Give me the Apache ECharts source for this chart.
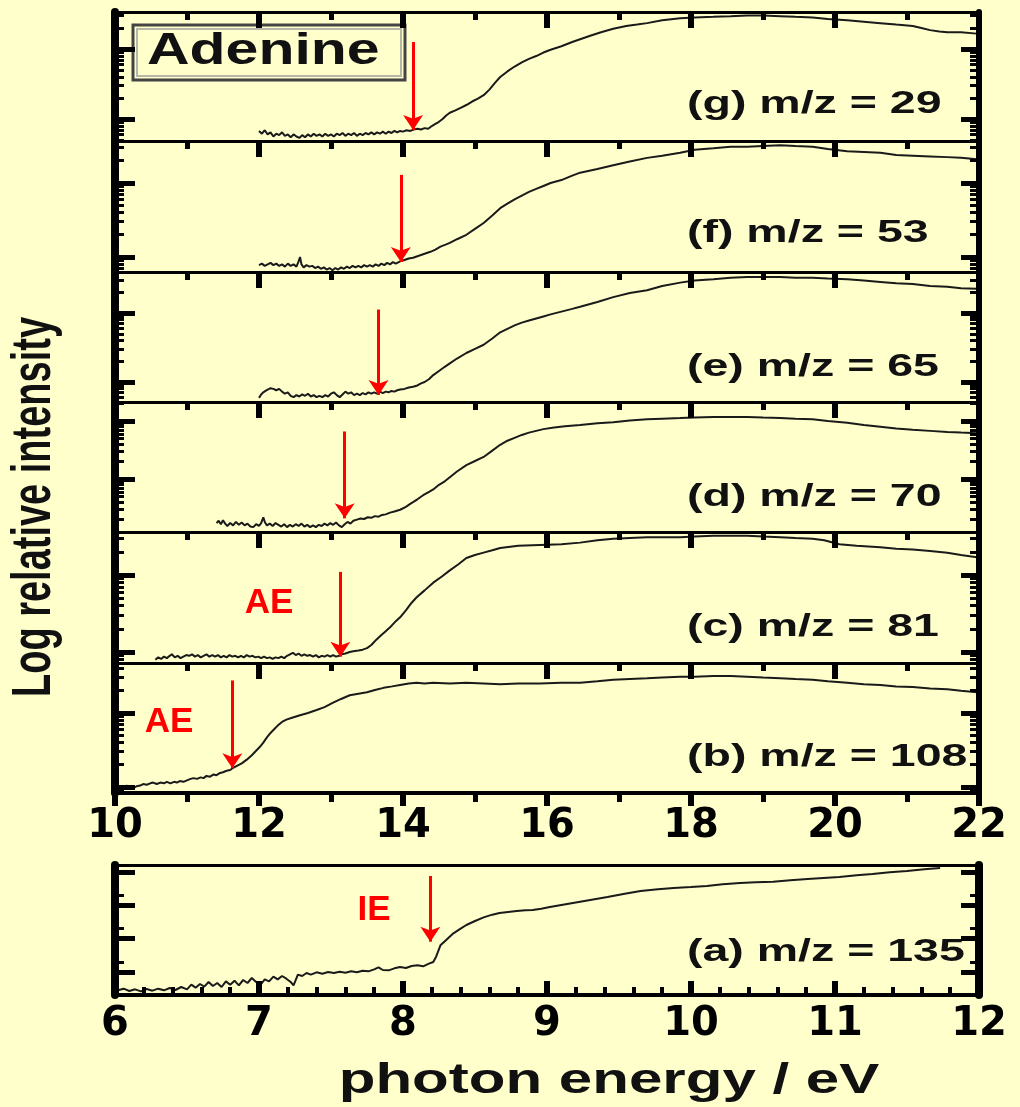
<!DOCTYPE html>
<html><head><meta charset="utf-8">
<script src="https://cdn.jsdelivr.net/npm/echarts@6/dist/echarts.min.js"></script>
<style>html,body{margin:0;padding:0;background:#FFFFCC}#c{width:1020px;height:1107px}</style>
</head><body><div id="c"></div>
<script>
// ---- DATA: [photon energy (eV), log10 relative intensity] ----
const panelG = [[12.00,-0.17],[12.04,-0.21],[12.08,-0.16],[12.12,-0.22],[12.16,-0.19],[12.20,-0.25],[12.24,-0.21],[12.28,-0.23],[12.32,-0.19],[12.36,-0.24],[12.40,-0.22],[12.44,-0.26],[12.48,-0.22],[12.52,-0.25],[12.56,-0.27],[12.60,-0.23],[12.64,-0.26],[12.68,-0.22],[12.72,-0.25],[12.76,-0.21],[12.80,-0.24],[12.84,-0.22],[12.88,-0.25],[12.92,-0.21],[12.96,-0.24],[13.00,-0.22],[13.04,-0.25],[13.08,-0.21],[13.12,-0.23],[13.16,-0.20],[13.20,-0.24],[13.24,-0.21],[13.28,-0.23],[13.32,-0.20],[13.36,-0.24],[13.40,-0.21],[13.44,-0.23],[13.48,-0.20],[13.52,-0.22],[13.56,-0.19],[13.60,-0.22],[13.64,-0.19],[13.68,-0.21],[13.72,-0.18],[13.76,-0.21],[13.80,-0.18],[13.84,-0.20],[13.88,-0.17],[13.92,-0.19],[13.96,-0.17],[14.00,-0.18],[14.05,-0.16],[14.10,-0.17],[14.15,-0.15],[14.20,-0.14],[14.25,-0.15],[14.30,-0.13],[14.35,-0.14],[14.40,-0.10],[14.45,-0.07],[14.50,-0.04],[14.55,0.00],[14.60,0.05],[14.65,0.09],[14.72,0.12],[14.80,0.16],[14.88,0.20],[14.96,0.25],[15.04,0.29],[15.12,0.34],[15.20,0.42],[15.28,0.52],[15.35,0.60],[15.45,0.68],[15.55,0.75],[15.65,0.81],[15.75,0.86],[15.85,0.90],[15.95,0.95],[16.05,0.99],[16.2,1.04],[16.35,1.10],[16.46,1.14],[16.6,1.19],[16.75,1.24],[16.92,1.29],[17.1,1.33],[17.25,1.35],[17.39,1.37],[17.6,1.41],[17.85,1.44],[18.05,1.45],[18.31,1.46],[18.55,1.47],[18.78,1.48],[19.0,1.48],[19.24,1.47],[19.45,1.46],[19.69,1.45],[19.9,1.43],[20.17,1.41],[20.4,1.39],[20.63,1.37],[20.85,1.35],[21.08,1.33],[21.2,1.30],[21.32,1.27],[21.45,1.25],[21.56,1.24],[21.75,1.24],[21.97,1.22]];

const panelF = [[12.00,-0.11],[12.04,-0.09],[12.08,-0.12],[12.12,-0.10],[12.16,-0.08],[12.20,-0.11],[12.24,-0.09],[12.28,-0.12],[12.32,-0.10],[12.36,-0.13],[12.40,-0.09],[12.44,-0.12],[12.48,-0.10],[12.52,-0.13],[12.55,-0.06],[12.57,0.00],[12.59,-0.10],[12.62,-0.14],[12.66,-0.11],[12.70,-0.13],[12.74,-0.12],[12.78,-0.15],[12.82,-0.13],[12.86,-0.16],[12.90,-0.14],[12.94,-0.17],[12.98,-0.15],[13.02,-0.18],[13.06,-0.15],[13.10,-0.17],[13.14,-0.14],[13.18,-0.16],[13.22,-0.13],[13.26,-0.15],[13.30,-0.12],[13.34,-0.14],[13.38,-0.12],[13.42,-0.14],[13.46,-0.11],[13.50,-0.13],[13.54,-0.11],[13.58,-0.13],[13.62,-0.10],[13.66,-0.12],[13.70,-0.09],[13.74,-0.11],[13.78,-0.08],[13.82,-0.10],[13.86,-0.07],[13.90,-0.09],[13.96,-0.06],[14.02,-0.04],[14.08,-0.02],[14.14,-0.01],[14.20,0.01],[14.26,0.03],[14.32,0.05],[14.38,0.07],[14.45,0.10],[14.52,0.14],[14.60,0.17],[14.65,0.19],[14.75,0.24],[14.88,0.30],[15.00,0.38],[15.12,0.46],[15.24,0.56],[15.35,0.66],[15.45,0.72],[15.55,0.78],[15.65,0.83],[15.75,0.88],[15.85,0.92],[15.95,0.96],[16.05,1.00],[16.2,1.04],[16.35,1.10],[16.46,1.14],[16.7,1.19],[16.92,1.24],[17.15,1.29],[17.39,1.34],[17.6,1.37],[17.85,1.41],[18.05,1.45],[18.31,1.47],[18.55,1.49],[18.78,1.49],[19.0,1.50],[19.24,1.51],[19.45,1.50],[19.69,1.49],[19.9,1.46],[20.17,1.43],[20.4,1.42],[20.63,1.41],[20.85,1.38],[21.08,1.37],[21.32,1.36],[21.56,1.35],[21.75,1.34],[21.97,1.32]];

const panelE = [[12.00,-0.23],[12.03,-0.18],[12.06,-0.15],[12.09,-0.13],[12.12,-0.11],[12.16,-0.09],[12.20,-0.10],[12.24,-0.12],[12.28,-0.10],[12.32,-0.14],[12.36,-0.17],[12.40,-0.15],[12.44,-0.20],[12.48,-0.22],[12.52,-0.19],[12.56,-0.21],[12.60,-0.18],[12.64,-0.20],[12.68,-0.17],[12.72,-0.21],[12.76,-0.19],[12.80,-0.22],[12.84,-0.20],[12.88,-0.22],[12.92,-0.19],[12.96,-0.21],[13.00,-0.17],[13.04,-0.15],[13.08,-0.19],[13.12,-0.22],[13.16,-0.18],[13.20,-0.14],[13.24,-0.17],[13.28,-0.15],[13.32,-0.19],[13.36,-0.17],[13.40,-0.19],[13.44,-0.16],[13.48,-0.18],[13.52,-0.15],[13.56,-0.17],[13.60,-0.15],[13.64,-0.17],[13.68,-0.14],[13.72,-0.16],[13.76,-0.14],[13.80,-0.15],[13.84,-0.13],[13.88,-0.14],[13.92,-0.12],[13.96,-0.11],[14.02,-0.10],[14.08,-0.08],[14.14,-0.07],[14.20,-0.05],[14.25,-0.02],[14.30,0.00],[14.36,0.04],[14.42,0.10],[14.50,0.16],[14.58,0.22],[14.65,0.27],[14.75,0.34],[14.88,0.42],[15.00,0.48],[15.12,0.54],[15.24,0.63],[15.35,0.72],[15.45,0.77],[15.55,0.82],[15.65,0.86],[15.75,0.89],[15.85,0.92],[15.95,0.95],[16.05,0.98],[16.2,1.02],[16.35,1.06],[16.46,1.09],[16.7,1.16],[16.92,1.23],[17.15,1.29],[17.39,1.33],[17.6,1.39],[17.85,1.44],[18.05,1.47],[18.31,1.49],[18.55,1.51],[18.78,1.52],[19.0,1.52],[19.24,1.52],[19.45,1.51],[19.69,1.51],[19.9,1.50],[20.17,1.49],[20.4,1.47],[20.63,1.45],[20.85,1.43],[21.08,1.42],[21.32,1.39],[21.56,1.38],[21.75,1.36],[21.97,1.35]];

const panelD = [[11.41,-0.76],[11.44,-0.72],[11.47,-0.78],[11.50,-0.71],[11.53,-0.77],[11.56,-0.81],[11.60,-0.76],[11.64,-0.80],[11.68,-0.74],[11.72,-0.79],[11.76,-0.75],[11.80,-0.80],[11.84,-0.77],[11.88,-0.82],[11.92,-0.83],[11.96,-0.78],[12.00,-0.81],[12.03,-0.76],[12.06,-0.66],[12.08,-0.74],[12.11,-0.80],[12.15,-0.77],[12.19,-0.81],[12.23,-0.76],[12.27,-0.79],[12.31,-0.82],[12.35,-0.78],[12.39,-0.83],[12.43,-0.79],[12.47,-0.82],[12.51,-0.78],[12.55,-0.81],[12.59,-0.77],[12.63,-0.82],[12.67,-0.79],[12.71,-0.83],[12.75,-0.80],[12.79,-0.83],[12.83,-0.79],[12.87,-0.81],[12.91,-0.77],[12.95,-0.80],[12.99,-0.76],[13.03,-0.79],[13.07,-0.75],[13.11,-0.80],[13.15,-0.83],[13.19,-0.78],[13.23,-0.74],[13.27,-0.77],[13.31,-0.72],[13.36,-0.70],[13.41,-0.68],[13.46,-0.69],[13.51,-0.66],[13.56,-0.67],[13.61,-0.64],[13.66,-0.65],[13.71,-0.62],[13.76,-0.61],[13.82,-0.58],[13.88,-0.56],[13.96,-0.53],[14.04,-0.48],[14.10,-0.43],[14.14,-0.40],[14.20,-0.35],[14.28,-0.28],[14.35,-0.23],[14.42,-0.18],[14.50,-0.10],[14.58,-0.04],[14.65,0.03],[14.75,0.13],[14.88,0.24],[15.00,0.31],[15.12,0.38],[15.24,0.49],[15.35,0.59],[15.45,0.66],[15.55,0.71],[15.65,0.76],[15.75,0.80],[15.85,0.83],[15.95,0.86],[16.1,0.89],[16.25,0.91],[16.46,0.93],[16.7,0.96],[16.92,0.98],[17.15,1.01],[17.39,1.03],[17.6,1.04],[17.85,1.05],[18.05,1.06],[18.31,1.07],[18.55,1.07],[18.78,1.07],[19.0,1.06],[19.24,1.05],[19.45,1.04],[19.69,1.03],[19.9,1.00],[20.17,0.97],[20.4,0.93],[20.63,0.90],[20.85,0.87],[21.08,0.85],[21.32,0.83],[21.56,0.81],[21.75,0.80],[21.97,0.79]];

const panelC = [[10.56,-0.10],[10.60,-0.07],[10.64,-0.09],[10.68,-0.06],[10.72,-0.08],[10.76,-0.05],[10.79,-0.03],[10.83,-0.07],[10.87,-0.05],[10.91,-0.08],[10.95,-0.06],[10.99,-0.04],[11.03,-0.05],[11.07,-0.03],[11.11,-0.06],[11.15,-0.04],[11.19,-0.07],[11.23,-0.05],[11.27,-0.03],[11.31,-0.06],[11.35,-0.04],[11.39,-0.06],[11.43,-0.04],[11.47,-0.07],[11.51,-0.05],[11.55,-0.07],[11.59,-0.04],[11.63,-0.06],[11.67,-0.05],[11.71,-0.07],[11.75,-0.05],[11.79,-0.07],[11.83,-0.04],[11.87,-0.06],[11.91,-0.05],[11.95,-0.07],[11.99,-0.06],[12.03,-0.08],[12.07,-0.06],[12.11,-0.08],[12.15,-0.07],[12.19,-0.09],[12.23,-0.07],[12.27,-0.08],[12.31,-0.06],[12.35,-0.08],[12.39,-0.05],[12.43,-0.03],[12.47,-0.01],[12.51,-0.04],[12.55,-0.02],[12.59,-0.05],[12.63,-0.03],[12.67,-0.05],[12.71,-0.04],[12.75,-0.06],[12.79,-0.04],[12.83,-0.07],[12.87,-0.05],[12.91,-0.06],[12.95,-0.04],[12.99,-0.06],[13.03,-0.04],[13.07,-0.06],[13.11,-0.05],[13.15,-0.03],[13.20,-0.02],[13.26,0.00],[13.31,0.01],[13.38,0.02],[13.44,0.03],[13.50,0.05],[13.56,0.09],[13.63,0.16],[13.70,0.22],[13.76,0.27],[13.82,0.32],[13.90,0.40],[13.96,0.45],[14.04,0.54],[14.12,0.64],[14.19,0.71],[14.30,0.80],[14.42,0.90],[14.54,0.98],[14.65,1.06],[14.77,1.14],[14.88,1.22],[15.00,1.26],[15.12,1.29],[15.24,1.32],[15.35,1.35],[15.6,1.38],[15.9,1.39],[16.2,1.40],[16.46,1.42],[16.7,1.45],[16.92,1.47],[17.15,1.48],[17.39,1.49],[17.6,1.49],[17.85,1.49],[18.05,1.50],[18.31,1.51],[18.55,1.51],[18.78,1.51],[19.0,1.50],[19.24,1.49],[19.45,1.48],[19.69,1.47],[19.85,1.45],[20.06,1.40],[20.3,1.38],[20.63,1.36],[20.85,1.34],[21.08,1.33],[21.32,1.31],[21.56,1.29],[21.75,1.26],[21.97,1.23]];

const panelB = [[10.12,0.00],[10.16,0.02],[10.20,-0.01],[10.25,-0.02],[10.30,0.01],[10.35,0.02],[10.39,0.04],[10.44,0.03],[10.49,0.05],[10.53,0.06],[10.58,0.04],[10.63,0.06],[10.68,0.05],[10.72,0.07],[10.77,0.05],[10.82,0.07],[10.86,0.06],[10.90,0.08],[10.95,0.07],[11.00,0.09],[11.05,0.11],[11.09,0.12],[11.14,0.11],[11.19,0.13],[11.23,0.12],[11.27,0.15],[11.32,0.14],[11.37,0.17],[11.41,0.16],[11.46,0.19],[11.50,0.20],[11.55,0.22],[11.60,0.23],[11.64,0.26],[11.70,0.29],[11.76,0.32],[11.83,0.37],[11.90,0.43],[11.96,0.49],[12.01,0.54],[12.06,0.60],[12.11,0.67],[12.16,0.73],[12.20,0.77],[12.26,0.83],[12.32,0.88],[12.38,0.91],[12.47,0.94],[12.57,0.97],[12.68,1.00],[12.80,1.04],[12.91,1.08],[13.03,1.14],[13.14,1.19],[13.26,1.24],[13.38,1.26],[13.50,1.28],[13.61,1.31],[13.73,1.34],[13.85,1.36],[13.96,1.38],[14.08,1.40],[14.19,1.41],[14.30,1.40],[14.42,1.41],[14.65,1.40],[14.88,1.41],[15.12,1.40],[15.35,1.39],[15.6,1.40],[15.9,1.40],[16.2,1.41],[16.46,1.41],[16.7,1.43],[16.92,1.45],[17.15,1.46],[17.39,1.47],[17.6,1.48],[17.85,1.49],[18.05,1.49],[18.31,1.50],[18.55,1.50],[18.78,1.49],[19.0,1.48],[19.24,1.47],[19.45,1.46],[19.69,1.45],[19.9,1.43],[20.17,1.41],[20.4,1.39],[20.63,1.38],[20.85,1.36],[21.08,1.35],[21.32,1.33],[21.56,1.32],[21.75,1.30],[21.97,1.28]];

const panelA = [[6.02,-0.55],[6.06,-0.50],[6.10,-0.57],[6.14,-0.52],[6.18,-0.58],[6.22,-0.51],[6.26,-0.56],[6.30,-0.50],[6.34,-0.55],[6.38,-0.48],[6.42,-0.54],[6.46,-0.45],[6.50,-0.52],[6.53,-0.38],[6.56,-0.47],[6.59,-0.36],[6.62,-0.44],[6.65,-0.30],[6.68,-0.42],[6.71,-0.33],[6.74,-0.45],[6.77,-0.28],[6.80,-0.38],[6.83,-0.26],[6.86,-0.40],[6.89,-0.24],[6.92,-0.33],[6.95,-0.18],[6.98,-0.30],[7.01,-0.39],[7.04,-0.22],[7.07,-0.28],[7.10,-0.14],[7.13,-0.22],[7.16,-0.12],[7.19,-0.20],[7.22,-0.30],[7.24,-0.40],[7.27,-0.08],[7.30,-0.12],[7.33,-0.03],[7.36,-0.08],[7.40,-0.01],[7.44,-0.05],[7.48,0.00],[7.52,-0.03],[7.56,0.01],[7.60,-0.02],[7.64,0.02],[7.68,-0.01],[7.72,0.04],[7.76,0.02],[7.80,0.08],[7.83,0.14],[7.86,0.06],[7.90,0.05],[7.94,0.11],[7.98,0.15],[8.02,0.12],[8.06,0.18],[8.10,0.20],[8.14,0.17],[8.18,0.25],[8.21,0.30],[8.23,0.46],[8.26,0.80],[8.30,0.96],[8.35,1.16],[8.40,1.30],[8.44,1.41],[8.50,1.53],[8.56,1.64],[8.62,1.72],[8.67,1.77],[8.73,1.80],[8.79,1.83],[8.85,1.85],[8.90,1.86],[8.96,1.90],[9.02,1.95],[9.10,2.01],[9.18,2.07],[9.30,2.16],[9.42,2.25],[9.54,2.35],[9.65,2.43],[9.77,2.48],[9.88,2.52],[10.0,2.55],[10.11,2.58],[10.22,2.63],[10.34,2.67],[10.45,2.69],[10.57,2.71],[10.69,2.75],[10.81,2.79],[10.92,2.82],[11.03,2.85],[11.15,2.90],[11.26,2.94],[11.38,2.99],[11.50,3.03],[11.62,3.08],[11.73,3.12]];

const panelNames = ['(g) m/z = 29','(f) m/z = 53','(e) m/z = 65','(d) m/z = 70','(c) m/z = 81','(b) m/z = 108','(a) m/z = 135'];
// visible log10 range of each panel
const logRanges = [[-0.314,1.529],[-0.203,1.568],[-0.290,1.594],[-0.914,1.328],[-0.143,1.558],[-0.081,1.676],[-0.690,3.210]];
// onset arrows: [energy, arrow start (log), arrow tip (log)]
const arrowsData = [[14.14,1.10,-0.157],[13.97,1.11,-0.068],[13.66,1.05,-0.188],[13.19,0.82,-0.678],[13.13,1.04,-0.061],[11.63,1.44,0.253],[8.19,2.88,0.91]];
const energyTop = {min:10, max:22, interval:2};
const energyBottom = {min:6, max:12, interval:1};
const onsetLabels = ['AE','AE','IE'];

// ---- LAYOUT ----
const edges = [12,141,272,402,532,663,793];
const gridA = {top:865, height:130};
const L = 115, R = 1020-979;
const FONT = 'Liberation Sans, Arial, sans-serif';
const TICKFONT = 'DejaVu Sans, sans-serif';
const AXIS_ZLEVEL = 1;

function majors(r){const o=[];for(let n=Math.ceil(r[0]);n<=Math.floor(r[1]);n++)o.push(n);return o;}
function minors(r,ks){const o=[];for(let n=Math.floor(r[0])-1;n<=Math.ceil(r[1]);n++){ks.forEach(k=>{const v=n+Math.log10(k);if(v>r[0]+0.01&&v<r[1]-0.01)o.push(v);});}return o;}

const grids=[], xAxes=[], yAxes=[], series=[];
const allData=[panelG,panelF,panelE,panelD,panelC,panelB,panelA];
for(let i=0;i<7;i++){
  if(i<6) grids.push({left:L,right:R,top:edges[i],height:edges[i+1]-edges[i]});
  else grids.push({left:L,right:R,top:gridA.top,height:gridA.height});
}
for(let i=0;i<6;i++){
  xAxes.push({gridIndex:i,zlevel:AXIS_ZLEVEL,type:'value',min:energyTop.min,max:energyTop.max,interval:energyTop.interval,position:'top',
    axisLine:{show:true,onZero:false,lineStyle:{color:'#000',width:3}},
    axisTick:{show:true,inside:true,length:16,lineStyle:{color:'#000',width:6}},
    minorTick:{show:true,splitNumber:2,length:8,lineStyle:{color:'#000',width:5}},
    axisLabel:{show:false},splitLine:{show:false}});
}
xAxes.push({gridIndex:5,zlevel:AXIS_ZLEVEL,type:'value',min:energyTop.min,max:energyTop.max,interval:energyTop.interval,position:'bottom',
  axisLine:{show:true,onZero:false,lineStyle:{color:'#000',width:4}},
  axisTick:{show:true,inside:false,length:13,lineStyle:{color:'#000',width:6}},
  minorTick:{show:true,splitNumber:2,length:9,lineStyle:{color:'#000',width:5}},
  axisLabel:{show:true,margin:14,color:'#000',fontFamily:TICKFONT,fontWeight:'bold',fontSize:40},splitLine:{show:false}});
xAxes.push({gridIndex:6,zlevel:AXIS_ZLEVEL,type:'value',min:energyBottom.min,max:energyBottom.max,interval:energyBottom.interval,position:'bottom',
  axisLine:{show:true,onZero:false,lineStyle:{color:'#000',width:4}},
  axisTick:{show:true,inside:true,length:14,lineStyle:{color:'#000',width:6}},
  minorTick:{show:true,splitNumber:5,length:8,lineStyle:{color:'#000',width:4}},
  axisLabel:{show:true,margin:10,color:'#000',fontFamily:TICKFONT,fontWeight:'bold',fontSize:40},splitLine:{show:false}});
xAxes.push({gridIndex:6,zlevel:AXIS_ZLEVEL,type:'value',min:energyBottom.min,max:energyBottom.max,interval:energyBottom.interval,position:'top',
  axisLine:{show:true,onZero:false,lineStyle:{color:'#000',width:3}},axisTick:{show:false},axisLabel:{show:false},splitLine:{show:false}});

for(let i=0;i<7;i++){
  const r=logRanges[i];
  const ks = i===6?[2]:[2,3,4,5,6,7,8,9];
  const base={gridIndex:i,zlevel:AXIS_ZLEVEL,type:'value',min:r[0],max:r[1],axisLabel:{show:false},splitLine:{show:false}};
  yAxes.push(Object.assign({},base,{position:'left',axisLine:{show:true,onZero:false,lineStyle:{color:'#000',width:8}},
    axisTick:{show:true,inside:true,length:20,customValues:majors(r),lineStyle:{color:'#000',width:5}}}));
  yAxes.push(Object.assign({},base,{position:'left',axisLine:{show:false,onZero:false},
    axisTick:{show:true,inside:true,length:9,customValues:minors(r,ks),lineStyle:{color:'#000',width:3}}}));
  yAxes.push(Object.assign({},base,{position:'right',axisLine:{show:true,onZero:false,lineStyle:{color:'#000',width:i===6?8:6}},
    axisTick:{show:true,inside:true,length:18,customValues:majors(r),lineStyle:{color:'#000',width:5}}}));
  yAxes.push(Object.assign({},base,{position:'right',axisLine:{show:false,onZero:false},
    axisTick:{show:true,inside:true,length:9,customValues:minors(r,ks),lineStyle:{color:'#000',width:3}}}));
}

for(let i=0;i<7;i++){
  const a=arrowsData[i];
  series.push({type:'line',name:panelNames[i],xAxisIndex:i<6?i:7,yAxisIndex:4*i,data:allData[i],
    showSymbol:false,
    lineStyle:{color:'#1a1a1a',width:2},
    markLine:{symbol:['none','arrow'],symbolSize:15,label:{show:false},
      lineStyle:{color:'#ff0000',width:3,type:'solid'},
      data:[[{coord:[a[0],a[1]]},{coord:[a[0],a[2]]}]]}});
}

const labelY=[104,233,367,497,627,757,952];
const graphic=[
  {type:'rect',shape:{x:133,y:25,width:272,height:55},style:{fill:'rgba(0,0,0,0)',stroke:'#444',lineWidth:3},z:10},
  {type:'rect',shape:{x:137,y:29,width:264,height:47},style:{fill:'rgba(0,0,0,0)',stroke:'#b8b8a8',lineWidth:2},z:10},
  {type:'text',x:147,y:52,scaleX:1.34,style:{text:'Adenine',font:'bold 44px '+FONT,fill:'#111',align:'left',verticalAlign:'middle'},z:11},
  {type:'text',x:609,y:1081,scaleX:1.43,style:{text:'photon energy / eV',font:'bold 42px '+FONT,fill:'#111',align:'center',verticalAlign:'middle'},z:11},
  {type:'text',x:35,y:507,rotation:Math.PI/2,scaleY:1.45,style:{text:'Log relative intensity',font:'bold 38px '+FONT,fill:'#111',align:'center',verticalAlign:'middle'},z:11},
  {type:'text',x:269,y:603,style:{text:onsetLabels[0],font:'bold 35px '+FONT,fill:'#ff0000',align:'center',verticalAlign:'middle'},z:11},
  {type:'text',x:169,y:722,style:{text:onsetLabels[1],font:'bold 35px '+FONT,fill:'#ff0000',align:'center',verticalAlign:'middle'},z:11},
  {type:'text',x:374,y:910,style:{text:onsetLabels[2],font:'bold 35px '+FONT,fill:'#ff0000',align:'center',verticalAlign:'middle'},z:11}
];
panelNames.forEach((t,i)=>graphic.push({type:'text',x:687,y:labelY[i],scaleX:1.5,
  style:{text:t,font:'bold 31px '+FONT,fill:'#111',align:'left',verticalAlign:'middle'},z:11}));

const chart=echarts.init(document.getElementById('c'));
chart.setOption({backgroundColor:'#FFFFCC',animation:false,grid:grids,xAxis:xAxes,yAxis:yAxes,series:series,graphic:graphic});
</script></body></html>
